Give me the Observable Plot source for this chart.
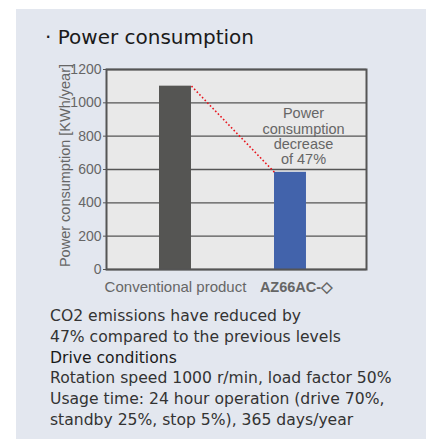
<!DOCTYPE html>
<html>
<head>
<meta charset="utf-8">
<script src="https://cdn.jsdelivr.net/npm/d3@7"></script>
<script src="https://cdn.jsdelivr.net/npm/@observablehq/plot@0.6"></script>
<style>
  html, body { margin: 0; padding: 0; background: #ffffff; }
  #wrap { position: relative; width: 430px; height: 439px; overflow: hidden; }
  #panel { position: absolute; left: 16px; top: 9px; width: 410px; height: 430px; background: #e3e7ef; }
  #title { position: absolute; left: 45px; top: 24px; font-family: "DejaVu Sans", sans-serif; font-size: 20px; line-height: 26px; color: #1a1a1a; white-space: nowrap; }
  #chart { position: absolute; left: 0; top: 50px; }
  #notes { position: absolute; left: 50px; top: 306px; font-family: "DejaVu Sans", sans-serif; font-size: 15.6px; line-height: 20.8px; color: #333; white-space: nowrap; }
  #notes .head { color: #1a1a1a; }
</style>
</head>
<body>
<div id="wrap">
  <div id="panel"></div>
  <div id="title"></div>
  <div id="chart"></div>
  <div id="notes"></div>
</div>
<script>
// ---- data ----
const titleText = "· Power consumption";
const categories = ["Conventional product", "AZ66AC-◇"];
const consumption = [1100, 583];
const barColors = ["#555553", "#4263ab"];
const yTicks = [0, 200, 400, 600, 800, 1000, 1200];
const yLabel = "Power consumption [KWh/year]";
const annotationLines = ["Power", "consumption", "decrease", "of 47%"];
const notesLines = [
  "CO2 emissions have reduced by",
  "47% compared to the previous levels"
];
const notesHead = "Drive conditions";
const conditionLines = [
  "Rotation speed 1000 r/min, load factor 50%",
  "Usage time: 24 hour operation (drive 70%,",
  "standby 25%, stop 5%), 365 days/year"
];

// ---- build table ----
const halfBar = 0.139;
const table = categories.map((c, i) => ({i, category: c, value: consumption[i], color: barColors[i]}));

document.getElementById("title").textContent = titleText;

const chart = Plot.plot({
  width: 430,
  height: 250,
  marginTop: 19,
  marginBottom: 31,
  marginLeft: 106,
  marginRight: 64,
  style: {background: "transparent", fontFamily: "'Liberation Sans', Arial, sans-serif", color: "#666", overflow: "visible"},
  x: {type: "linear", domain: [-0.6, 1.661]},
  y: {domain: [0, 1200]},
  marks: [
    Plot.frame({fill: "#e9e9e9", stroke: null}),
    Plot.ruleY(yTicks, {stroke: "#555", strokeWidth: 1.3}),
    Plot.rectY(table, {x1: d => d.i - halfBar, x2: d => d.i + halfBar, y1: 0, y2: "value", fill: "color"}),
    Plot.link([[table[0], table[1]]], {
      x1: d => d[0].i + halfBar, y1: d => d[0].value,
      x2: d => d[1].i - halfBar, y2: d => d[1].value,
      stroke: "#e8141c", strokeWidth: 1.6, strokeDasharray: "1.6,2.2"
    }),
    Plot.text([annotationLines.join("\n")], {
      x: () => table[1].i,
      y: () => (table[0].value + table[1].value) / 2,
      dx: 13, dy: 7,
      fontSize: 14.5, lineHeight: 1.05, fill: "#666"
    }),
    Plot.frame({stroke: "#555", strokeWidth: 2}),
    Plot.axisY(yTicks, {tickSize: 3, tickPadding: 2, fontSize: 14, stroke: "#555", fill: "#666", tickFormat: d => String(d), label: null}),
    Plot.axisX([0], {tickFormat: i => categories[i], tickSize: 0, tickPadding: 12, fontSize: 15, fill: "#666", label: null}),
    Plot.axisX([1], {tickFormat: i => categories[i], tickSize: 0, tickPadding: 12, fontSize: 14.5, fontWeight: "bold", fill: "#666", dx: 6, label: null}),
    Plot.text([yLabel], {frameAnchor: "left", textAnchor: "middle", rotate: -90, dx: -41, dy: -4, fontSize: 14.5, fill: "#666"})
  ]
});
document.getElementById("chart").appendChild(chart);

const notes = document.getElementById("notes");
notesLines.forEach(t => { const d = document.createElement("div"); d.textContent = t; notes.appendChild(d); });
{ const d = document.createElement("div"); d.className = "head"; d.textContent = notesHead; notes.appendChild(d); }
conditionLines.forEach(t => { const d = document.createElement("div"); d.textContent = t; notes.appendChild(d); });
</script>
</body>
</html>
